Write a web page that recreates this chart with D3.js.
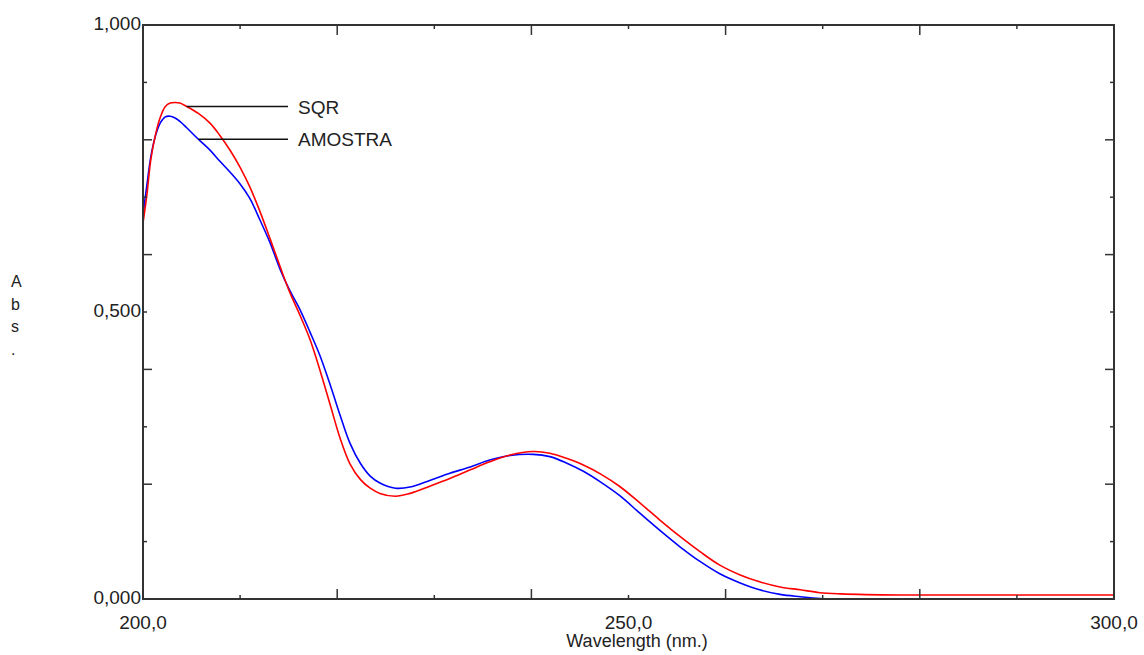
<!DOCTYPE html>
<html>
<head>
<meta charset="utf-8">
<script src="https://cdn.jsdelivr.net/npm/d3@7"></script>
<style>
    body { margin: 0; background: #fff; }
    svg text { font-family: "Liberation Sans", Arial, sans-serif; fill: #222; }
</style>
</head>
<body>
<svg id="chart" width="1144" height="655"></svg>
<script>
// wavelengths (nm)
var wavelengths = [200.0, 200.4, 200.8, 201.3, 201.8, 202.3, 202.8, 203.3, 203.8, 204.5,
    205.7, 206.9, 207.9, 209.0, 210.0, 211.0, 212.0, 213.1, 214.1, 215.1,
    216.2, 217.2, 218.2, 219.3, 220.3, 221.3, 222.4, 223.4, 224.4, 226.0,
    227.5, 229.6, 231.6, 233.7, 235.7, 237.8, 240.2, 241.9, 243.6, 245.4,
    247.1, 249.1, 251.2, 253.2, 255.3, 257.4, 259.4, 261.5, 263.5, 265.6,
    267.7, 269.7, 271.8, 278.0, 285.0, 300.0];

var sqr = [0.655, 0.704, 0.765, 0.810, 0.840, 0.858, 0.864, 0.865, 0.864, 0.858,
    0.846, 0.829, 0.808, 0.781, 0.752, 0.718, 0.677, 0.627, 0.580, 0.535,
    0.493, 0.452, 0.400, 0.337, 0.280, 0.236, 0.208, 0.193, 0.184, 0.179,
    0.184, 0.197, 0.210, 0.225, 0.239, 0.251, 0.257, 0.254, 0.245, 0.233,
    0.218, 0.196, 0.167, 0.138, 0.109, 0.082, 0.059, 0.042, 0.030, 0.021,
    0.016, 0.011, 0.009, 0.007, 0.007, 0.007];

var amostra = [0.670, 0.721, 0.770, 0.808, 0.830, 0.840, 0.841, 0.838, 0.832, 0.821,
    0.801, 0.782, 0.763, 0.743, 0.723, 0.698, 0.662, 0.620, 0.575, 0.538,
    0.503, 0.465, 0.425, 0.372, 0.320, 0.272, 0.236, 0.214, 0.202, 0.193,
    0.195, 0.207, 0.219, 0.230, 0.242, 0.250, 0.252, 0.248, 0.237, 0.222,
    0.204, 0.180, 0.149, 0.120, 0.091, 0.065, 0.044, 0.028, 0.016, 0.008,
    0.004, 0.001, 0.000, 0.000, 0.000, 0.000];

var x_tick_labels = ["200,0", "250,0", "300,0"];
var y_tick_labels = ["0,000", "0,500", "1,000"];
var series_names = ["SQR", "AMOSTRA"];
var series_colors = ["#ff0000", "#0000ff"];
// wavelength where each legend leader line touches its curve
var legend_anchor = [204.5, 205.7];

var plot_left = 143, plot_top = 25, plot_width = 971, plot_height = 574;

var svg = d3.select("#chart");

var x = d3.scaleLinear().domain([200, 300]).range([plot_left, plot_left + plot_width]);
var y = d3.scaleLinear().domain([0, 1]).range([plot_top + plot_height, plot_top]);

var line = d3.line()
    .x(function(d) { return x(d[0]); })
    .y(function(d) { return y(d[1]); })
    .curve(d3.curveCatmullRom.alpha(0.5));

var series = [sqr, amostra];

// draw blue first so red sits on top where they overlap
[1, 0].forEach(function(i) {
    svg.append("path")
        .datum(d3.zip(wavelengths, series[i]))
        .attr("fill", "none")
        .attr("stroke", series_colors[i])
        .attr("stroke-width", 1.6)
        .attr("d", line);
});

// frame
svg.append("rect")
    .attr("x", plot_left).attr("y", plot_top)
    .attr("width", plot_width).attr("height", plot_height)
    .attr("fill", "none")
    .attr("stroke", "#333")
    .attr("stroke-width", 2);

// ticks on all four sides, pointing inward
var frame = svg.append("g").attr("stroke", "#333").attr("stroke-width", 1.5);

d3.range(0, 1.0001, 0.1).forEach(function(v, i) {
    var len = (i % 2 === 0) ? 9 : 4;
    frame.append("line").attr("x1", plot_left).attr("x2", plot_left + len)
        .attr("y1", y(v)).attr("y2", y(v));
    frame.append("line").attr("x1", plot_left + plot_width).attr("x2", plot_left + plot_width - len)
        .attr("y1", y(v)).attr("y2", y(v));
});

d3.range(200, 300.001, 10).forEach(function(v, i) {
    var len = (i % 2 === 0) ? 10 : 4;
    frame.append("line").attr("x1", x(v)).attr("x2", x(v))
        .attr("y1", plot_top + plot_height).attr("y2", plot_top + plot_height - len);
    frame.append("line").attr("x1", x(v)).attr("x2", x(v))
        .attr("y1", plot_top).attr("y2", plot_top + len);
});

// tick labels
svg.selectAll(".ylab")
    .data([0, 0.5, 1])
    .enter().append("text")
    .attr("x", plot_left - 2)
    .attr("y", function(d) { return y(d) + 5; })
    .attr("text-anchor", "end")
    .style("font-size", "19px")
    .text(function(d, i) { return y_tick_labels[i]; });

svg.selectAll(".xlab")
    .data([200, 250, 300])
    .enter().append("text")
    .attr("x", function(d) { return x(d); })
    .attr("y", 629)
    .attr("text-anchor", "middle")
    .style("font-size", "19px")
    .text(function(d, i) { return x_tick_labels[i]; });

svg.append("text")
    .attr("x", 637).attr("y", 647)
    .attr("text-anchor", "middle")
    .style("font-size", "18px")
    .text("Wavelength (nm.)");

// vertical stacked axis title
["A", "b", "s", "."].forEach(function(ch, i) {
    svg.append("text")
        .attr("x", 11).attr("y", 287 + i * 22.5)
        .style("font-size", "16px")
        .text(ch);
});

// legend leader lines
series_names.forEach(function(name, i) {
    var idx = wavelengths.indexOf(legend_anchor[i]);
    var ly = y(series[i][idx]);
    svg.append("line")
        .attr("x1", x(legend_anchor[i])).attr("x2", 288)
        .attr("y1", ly).attr("y2", ly)
        .attr("stroke", "#111").attr("stroke-width", 1.5);
    svg.append("text")
        .attr("x", 298).attr("y", ly + 7)
        .style("font-size", "19px")
        .text(name);
});
</script>
</body>
</html>
